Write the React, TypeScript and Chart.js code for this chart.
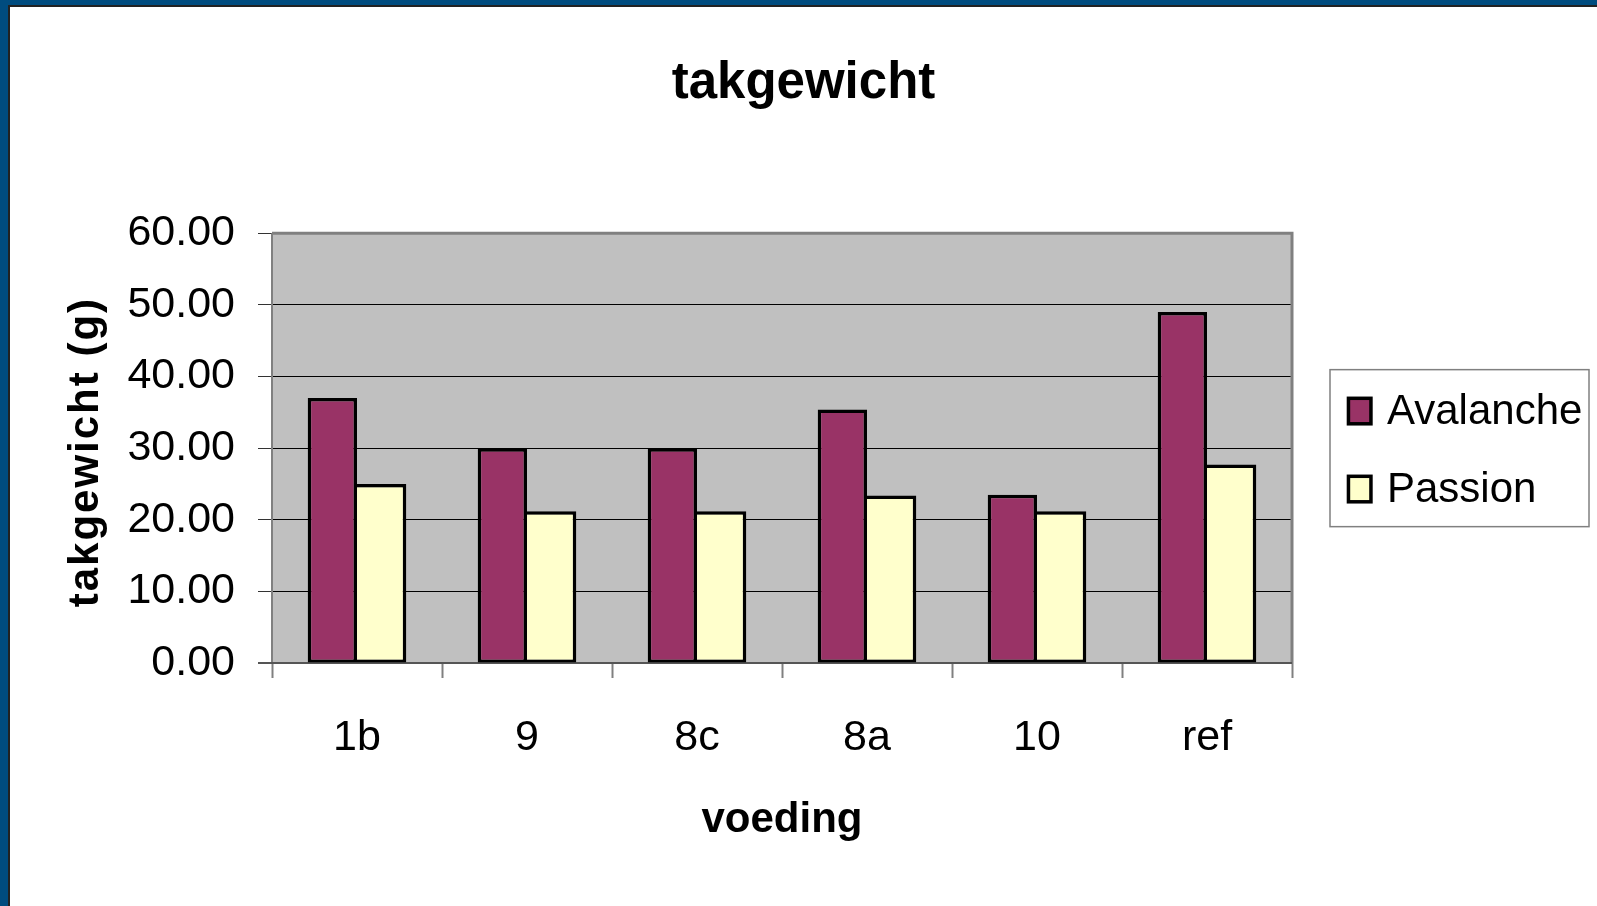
import React, { useEffect, useRef } from "react";
import { Chart, registerables } from "chart.js";

Chart.register(...registerables);

const categories = ["1b", "9", "8c", "8a", "10", "ref"];
const avalancheValues = [37.0, 30.0, 30.0, 35.4, 23.5, 49.0];
const passionValues = [25.0, 21.2, 21.2, 23.4, 21.2, 27.7];
const seriesNames = ["Avalanche", "Passion"];
const seriesColors = ["#993366", "#ffffcc"];
const yTickValues = [0, 10, 20, 30, 40, 50, 60];
const chartTitle = "takgewicht";
const xAxisTitle = "voeding";
const yAxisTitle = "takgewicht (g)";

const FONT = "'Liberation Sans', Arial, Helvetica, sans-serif";

const plotBackground = {
  id: "plotBackground",
  beforeDraw(chart: any) {
    const { ctx, chartArea: a } = chart;
    ctx.save();
    ctx.fillStyle = "#c0c0c0";
    ctx.fillRect(a.left, a.top, a.right - a.left, a.bottom - a.top);
    ctx.restore();
  },
};

const plotFrame = {
  id: "plotFrame",
  beforeDatasetsDraw(chart: any) {
    const { ctx, chartArea: a } = chart;
    ctx.save();
    ctx.strokeStyle = "#808080";
    ctx.lineWidth = 3;
    ctx.beginPath();
    ctx.moveTo(a.left, a.top);
    ctx.lineTo(a.right, a.top);
    ctx.lineTo(a.right, a.bottom);
    ctx.stroke();
    ctx.lineWidth = 2;
    ctx.beginPath();
    ctx.moveTo(a.left, a.top);
    ctx.lineTo(a.left, a.bottom);
    ctx.stroke();
    ctx.strokeStyle = "#555555";
    ctx.lineWidth = 2;
    ctx.beginPath();
    ctx.moveTo(a.left - 14, a.bottom);
    ctx.lineTo(a.right, a.bottom);
    ctx.stroke();
    ctx.restore();
  },
};

const boxedLegend = {
  id: "boxedLegend",
  afterDraw(chart: any) {
    const { ctx, chartArea: a } = chart;
    const w = 259;
    const h = 157;
    const left = a.right + 38;
    const top = (a.top + a.bottom) / 2 - h / 2;
    ctx.save();
    ctx.fillStyle = "#ffffff";
    ctx.fillRect(left, top, w, h);
    ctx.strokeStyle = "#808080";
    ctx.lineWidth = 1.5;
    ctx.strokeRect(left, top, w, h);
    chart.data.datasets.forEach((ds: any, i: number) => {
      const cy = top + 41.4 + i * 78;
      const mx = left + 16.7;
      const my = cy - 14.5;
      ctx.fillStyle = "#000000";
      ctx.fillRect(mx, my, 26, 29);
      ctx.fillStyle = ds.backgroundColor;
      ctx.fillRect(mx + 3.5, my + 3.5, 19, 22);
      ctx.fillStyle = "#000000";
      ctx.font = `42px ${FONT}`;
      ctx.textAlign = "left";
      ctx.textBaseline = "middle";
      ctx.fillText(ds.label, left + 57, cy + 1);
    });
    ctx.restore();
  },
};

const yTitlePlugin = {
  id: "yTitlePlugin",
  afterDraw(chart: any) {
    const { ctx, chartArea: a } = chart;
    ctx.save();
    ctx.translate(76, (a.top + a.bottom) / 2 + 4);
    ctx.rotate(-Math.PI / 2);
    ctx.font = `bold 42px ${FONT}`;
    try {
      (ctx as any).letterSpacing = "2px";
    } catch (e) {}
    ctx.fillStyle = "#000000";
    ctx.textAlign = "center";
    ctx.textBaseline = "middle";
    ctx.fillText(yAxisTitle, 0, 0);
    ctx.restore();
  },
};

export default function App() {
  const canvasRef = useRef<HTMLCanvasElement | null>(null);

  useEffect(() => {
    const canvas = canvasRef.current;
    if (!canvas) return;
    const chart = new Chart(canvas, {
      type: "bar",
      data: {
        labels: categories,
        datasets: [
          {
            label: seriesNames[0],
            data: avalancheValues,
            backgroundColor: seriesColors[0],
            borderColor: "#000000",
            borderWidth: { top: 3.5, left: 3.5, right: 3.5, bottom: 3 },
            borderSkipped: false,
          },
          {
            label: seriesNames[1],
            data: passionValues,
            backgroundColor: seriesColors[1],
            borderColor: "#000000",
            borderWidth: { top: 3.5, left: 0, right: 3.5, bottom: 3 },
            borderSkipped: false,
          },
        ],
      },
      options: {
        responsive: false,
        animation: false,
        devicePixelRatio: 1,
        layout: { padding: { left: 0, right: 0, top: 0, bottom: 0 } },
        datasets: {
          bar: { categoryPercentage: 0.58, barPercentage: 1.0 },
        },
        plugins: {
          legend: { display: false },
          tooltip: { enabled: false },
          title: {
            display: true,
            text: chartTitle,
            color: "#000000",
            font: { family: FONT, size: 51, weight: "bold", lineHeight: 1.2 },
            padding: { top: 46, bottom: 119.1 },
          },
        },
        scales: {
          x: {
            type: "category",
            offset: true,
            grid: {
              display: true,
              offset: true,
              drawOnChartArea: false,
              drawTicks: true,
              tickLength: 15,
              tickColor: "#808080",
              tickWidth: 2,
            },
            border: { display: false },
            ticks: {
              color: "#000000",
              font: { family: FONT, size: 43, lineHeight: 1.2 },
              padding: 34,
              maxRotation: 0,
              autoSkip: false,
            },
            title: {
              display: true,
              text: xAxisTitle,
              color: "#000000",
              font: { family: FONT, size: 42, weight: "bold", lineHeight: 1.2 },
              padding: { top: 0, bottom: 60 },
            },
            afterFit: (s: any) => {
              s.height = 243;
            },
          },
          y: {
            min: 0,
            max: 60,
            grid: {
              color: "#000000",
              lineWidth: 1,
              drawTicks: true,
              tickLength: 14,
              tickColor: "#333333",
            },
            border: { display: false },
            ticks: {
              color: "#000000",
              font: { family: FONT, size: 43, lineHeight: 1.2 },
              padding: 23,
              callback: (v: any) => Number(v).toFixed(2),
            },
            afterBuildTicks: (s: any) => {
              s.ticks = yTickValues.map((v) => ({ value: v }));
            },
            afterFit: (s: any) => {
              s.width = 262;
            },
          },
          legendSpace: {
            type: "linear",
            position: "right",
            display: true,
            grid: { display: false, drawTicks: false },
            border: { display: false },
            ticks: { display: false },
            afterFit: (s: any) => {
              s.width = 305;
            },
          },
        },
      },
      plugins: [plotBackground, plotFrame, boxedLegend, yTitlePlugin],
    });
    return () => chart.destroy();
  }, []);

  return (
    <div
      style={{
        position: "fixed",
        left: 0,
        top: 0,
        width: 1597,
        height: 906,
        background: "#004c7f",
        overflow: "hidden",
      }}
    >
      <div
        style={{
          position: "absolute",
          left: 8,
          top: 5,
          width: 1589,
          height: 901,
          boxSizing: "border-box",
          background: "#ffffff",
          borderLeft: "2px solid #222222",
          borderTop: "2px solid #222222",
        }}
      >
        <canvas
          ref={canvasRef}
          width={1587}
          height={899}
          style={{ display: "block", width: 1587, height: 899 }}
        />
      </div>
    </div>
  );
}
